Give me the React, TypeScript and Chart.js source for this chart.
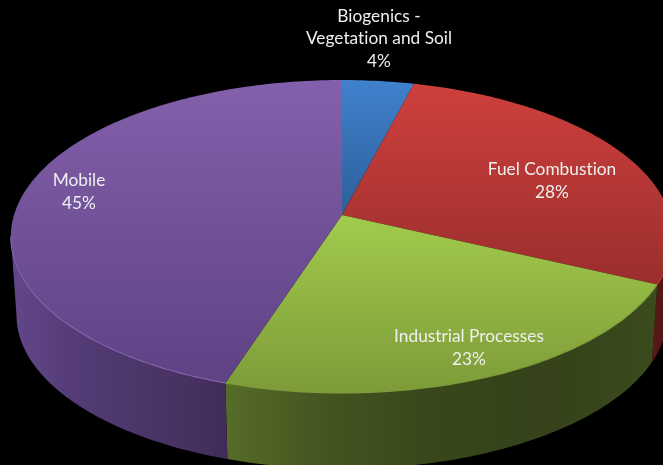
import React, { useEffect, useRef } from "react";
import { Chart, registerables } from "chart.js";

Chart.register(...registerables);

// Emission sources and their shares, in percent.
const sources = ["Biogenics -\nVegetation and Soil", "Fuel Combustion", "Industrial Processes", "Mobile"];
const shares = [4, 28, 23, 45];

// Face shading per slice: lit top edge to shaded bottom edge.
const faceLight = ["#4081cd", "#ce403c", "#a2cb4c", "#8360ab"];
const faceDark = ["#2e5f99", "#9a2e2d", "#7c9b39", "#5e4284"];
// Side wall shading per slice, left to right.
const wallShades = [
  ["#2a4a75", "#2a4a75"],
  ["#5a1a18", "#4a1412"],
  ["#566c28", "#42531f", "#38461a", "#35421a", "#3b4b1c"],
  ["#62478a", "#523a74", "#4a3566", "#412c59"],
];
const rimColors = ["#4a88d0", "#b8403c", "#7f9d3b", "#8263ab"];

// Text anchors for each slice's label.
const labelAnchors = [
  { x: 379, y: 61 },
  { x: 552, y: 192 },
  { x: 469, y: 359 },
  { x: 79, y: 203 },
];

const FONT = '17.3px Lato, "Open Sans", sans-serif';
const LINE = 22.5;

// Perspective view of the disc: the far side shrinks, the near side grows.
const view = { cx: 342, cy: 215, rx: 328, ry: 153.5, k: 0.1374, depth: 79, floorScale: 0.983 };

type Pt = { x: number; y: number };

function project(angle: number, floor: boolean): Pt {
  const u = Math.cos(angle);
  const v = Math.sin(angle);
  const w = 1 - view.k * v;
  const s = floor ? view.floorScale : 1;
  return {
    x: view.cx + (view.rx * u * s) / w,
    y: view.cy + (floor ? view.depth : 0) + (view.ry * v * s) / w,
  };
}

function sampleAngles(a0: number, a1: number): number[] {
  const n = Math.max(2, Math.ceil(((a1 - a0) / Math.PI) * 180));
  const out: number[] = [];
  for (let i = 0; i <= n; i++) out.push(a0 + ((a1 - a0) * i) / n);
  return out;
}

const piePerspective = {
  id: "piePerspective",
  beforeDatasetsDraw(chart: any) {
    const ctx: CanvasRenderingContext2D = chart.ctx;
    const arcs = chart.getDatasetMeta(0).data;

    // The rim faces the viewer between the disc's two side extremes.
    const visFrom = Math.asin(view.k);
    const visTo = Math.PI - Math.asin(view.k);

    arcs.forEach((arc: any, i: number) => {
      const a0 = Math.max(arc.startAngle, visFrom);
      const a1 = Math.min(arc.endAngle, visTo);
      if (a1 <= a0) return;
      const angles = sampleAngles(a0, a1);
      const top = angles.map((a) => project(a, false));
      const bottom = angles.map((a) => project(a, true));
      const xs = [...top, ...bottom].map((p) => p.x);
      const g = ctx.createLinearGradient(Math.min(...xs), 0, Math.max(...xs), 0);
      const shades = wallShades[i];
      shades.forEach((c, j) => g.addColorStop(j / (shades.length - 1), c));
      ctx.beginPath();
      top.forEach((p, j) => (j ? ctx.lineTo(p.x, p.y) : ctx.moveTo(p.x, p.y)));
      [...bottom].reverse().forEach((p) => ctx.lineTo(p.x, p.y));
      ctx.closePath();
      ctx.fillStyle = g;
      ctx.fill();
    });

    // Top faces, each shaded across its own height.
    arcs.forEach((arc: any, i: number) => {
      const rim = sampleAngles(arc.startAngle, arc.endAngle).map((a) => project(a, false));
      const ys = [...rim.map((p) => p.y), view.cy];
      const g = ctx.createLinearGradient(0, Math.min(...ys), 0, Math.max(...ys));
      g.addColorStop(0, faceLight[i]);
      g.addColorStop(1, faceDark[i]);
      ctx.beginPath();
      ctx.moveTo(view.cx, view.cy);
      rim.forEach((p) => ctx.lineTo(p.x, p.y));
      ctx.closePath();
      ctx.fillStyle = g;
      ctx.fill();
    });

    // Bevel highlight along the near rim.
    arcs.forEach((arc: any, i: number) => {
      const a0 = Math.max(arc.startAngle, visFrom);
      const a1 = Math.min(arc.endAngle, visTo);
      if (a1 <= a0) return;
      ctx.beginPath();
      sampleAngles(a0, a1).forEach((a, j) => {
        const p = project(a, false);
        if (j) ctx.lineTo(p.x, p.y);
        else ctx.moveTo(p.x, p.y);
      });
      ctx.strokeStyle = rimColors[i];
      ctx.lineWidth = 1.2;
      ctx.stroke();
    });

    // Category and percentage labels; the tiny spacing keeps letters unjoined.
    ctx.fillStyle = "#efefef";
    ctx.font = FONT;
    (ctx as any).letterSpacing = "0.01px";
    ctx.textAlign = "center";
    ctx.textBaseline = "middle";
    arcs.forEach((_: any, i: number) => {
      const lines = [...String(chart.data.labels[i]).split("\n"), `${chart.data.datasets[0].data[i]}%`];
      const { x, y } = labelAnchors[i];
      lines.forEach((line, j) => ctx.fillText(line, x, y - (lines.length - 1 - j) * LINE));
    });
    (ctx as any).letterSpacing = "0px";

    return false;
  },
};

export default function App() {
  const ref = useRef<HTMLCanvasElement>(null);

  useEffect(() => {
    document.body.style.margin = "0";
    document.body.style.background = "#000";
    const chart = new Chart(ref.current!, {
      type: "pie",
      data: {
        labels: sources,
        datasets: [{ data: shares, backgroundColor: faceLight, borderWidth: 0 }],
      },
      options: {
        responsive: false,
        animation: false,
        plugins: { legend: { display: false }, tooltip: { enabled: false } },
      },
      plugins: [piePerspective],
    } as any);
    return () => chart.destroy();
  }, []);

  return <canvas ref={ref} width={663} height={465} style={{ display: "block" }} />;
}
